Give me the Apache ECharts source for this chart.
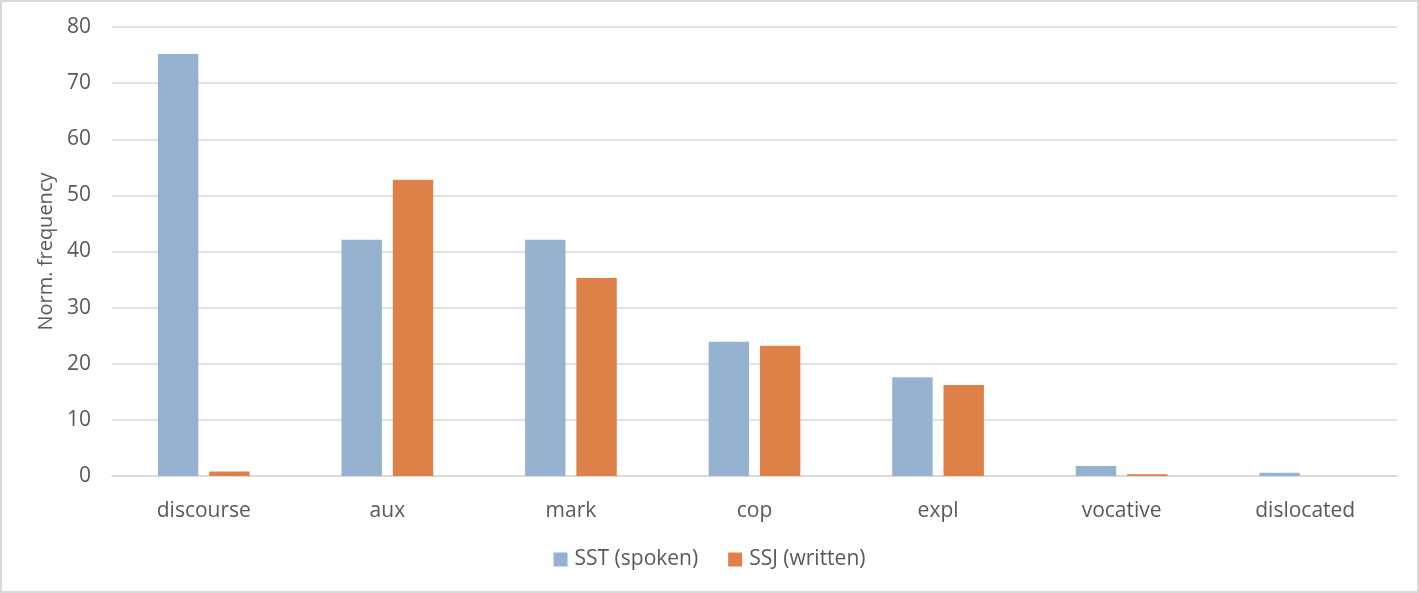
<!DOCTYPE html>
<html>
<head>
<meta charset="utf-8">
<script src="https://cdn.jsdelivr.net/npm/echarts@6/dist/echarts.min.js"></script>
<style>
html,body{margin:0;padding:0;background:#fff;}
#chart{width:1419px;height:593px;box-sizing:border-box;border:2px solid #d9d9d9;}
</style>
</head>
<body>
<div id="chart"></div>
<script>
const categories = ['discourse','aux','mark','cop','expl','vocative','dislocated'];
const sstSpoken = [75.2, 42.1, 42.1, 23.9, 17.6, 1.8, 0.6];
const ssjWritten = [0.8, 52.8, 35.3, 23.2, 16.2, 0.3, 0];
const seriesNames = ['SST (spoken)', 'SSJ (written)'];
const yTitle = 'Norm. frequency';

const font = '"Open Sans", "Liberation Sans", sans-serif';
const chart = echarts.init(document.getElementById('chart'), null, {renderer:'canvas'});
chart.setOption({
  animation:false,
  grid:{left:110,right:20,top:25,bottom:115,containLabel:false},
  legend:{
    bottom:16,left:'center',
    itemWidth:14,itemHeight:14,itemGap:30,
    icon:'rect',
    textStyle:{color:'#595959',fontSize:21,fontFamily:font,padding:[0,0,0,2]},
    data:seriesNames
  },
  xAxis:{
    type:'category',data:categories,
    axisLine:{lineStyle:{color:'#d9d9d9',width:1.5}},
    axisTick:{show:false},
    axisLabel:{color:'#595959',fontSize:21,fontFamily:font,margin:25}
  },
  yAxis:{
    type:'value',min:0,max:80,interval:10,
    name:yTitle,nameLocation:'middle',nameGap:55,nameRotate:90,
    nameTextStyle:{color:'#595959',fontSize:20,fontFamily:font},
    axisLine:{show:false},axisTick:{show:false},
    splitLine:{lineStyle:{color:'#d9d9d9',width:1.5}},
    axisLabel:{color:'#595959',fontSize:21,fontFamily:font,margin:21}
  },
  series:[
    {name:seriesNames[0],type:'bar',data:sstSpoken,barWidth:'22%',barGap:'27%',itemStyle:{color:'#95b3d1'}},
    {name:seriesNames[1],type:'bar',data:ssjWritten,barWidth:'22%',itemStyle:{color:'#de8148'}}
  ]
});
</script>
</body>
</html>
